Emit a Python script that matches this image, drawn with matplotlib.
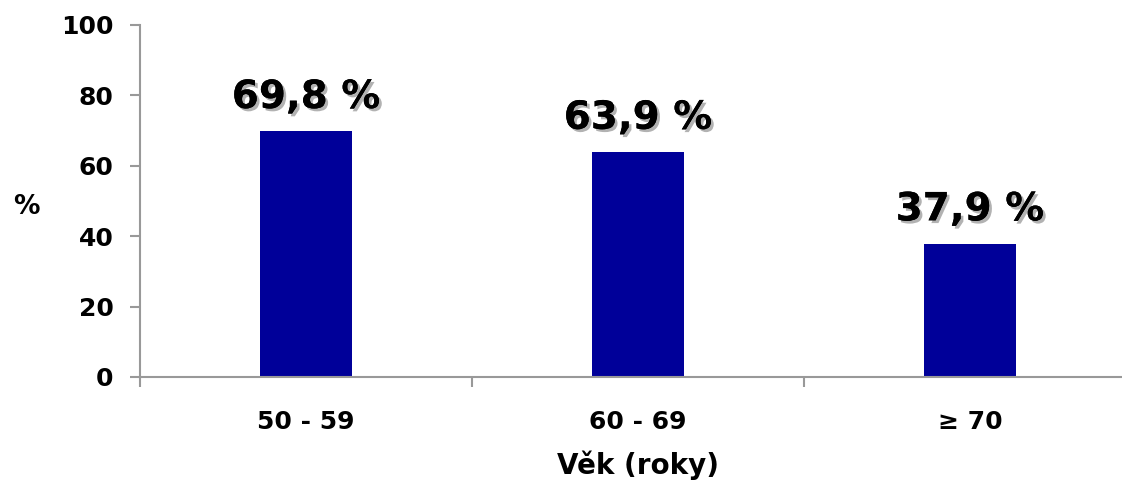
import matplotlib.pyplot as plt
import matplotlib.patheffects as pe
import numpy as np

categories = ["50 - 59", "60 - 69", "≥ 70"]
values = [69.8, 63.9, 37.9]
labels = ["69,8 %", "63,9 %", "37,9 %"]

plt.rcParams['font.family'] = ['DejaVu Sans']
plt.rcParams['font.weight'] = 'bold'

fig = plt.figure(figsize=(11.22, 4.84), dpi=100)
ax = fig.add_axes([140/1122, 1 - 377/484, 996/1122, 352/484])

x = np.arange(len(categories))
ax.bar(x, values, width=0.28, color="#000099")

for xi, v, lab in zip(x, values, labels):
    ax.annotate(lab, (xi, v), xytext=(0, 11), textcoords="offset points",
                ha="center", va="bottom", fontsize=28, fontweight="bold",
                path_effects=[pe.withSimplePatchShadow(offset=(2, -2), alpha=0.3), pe.Normal()])

ax.set_xlim(-0.5, 2.5)
ax.set_ylim(0, 100)
ax.set_yticks(np.arange(0, 101, 20))
ax.set_xticks(x)
ax.set_xticklabels(categories)
ax.set_xticks([-0.5, 0.5, 1.5, 2.5], minor=True)
ax.tick_params(axis="x", which="major", length=0, pad=24, labelsize=18)
ax.tick_params(axis="x", which="minor", length=7, color="#999999", width=1.5)
ax.tick_params(axis="y", length=7, color="#999999", width=1.5, labelsize=18, pad=12)
for t in ax.get_yticklabels() + ax.get_xticklabels():
    t.set_fontweight("bold")

for s in ["top", "right"]:
    ax.spines[s].set_visible(False)
for s in ["left", "bottom"]:
    ax.spines[s].set_color("#999999")
    ax.spines[s].set_linewidth(1.5)

ax.set_xlabel("Věk (roky)", fontsize=20, fontweight="bold", labelpad=12)
fig.text(26/1122, 1 - 207/484, "%", fontsize=19, fontweight="bold", ha="center", va="center")

fig.savefig("out.png", dpi=100)
